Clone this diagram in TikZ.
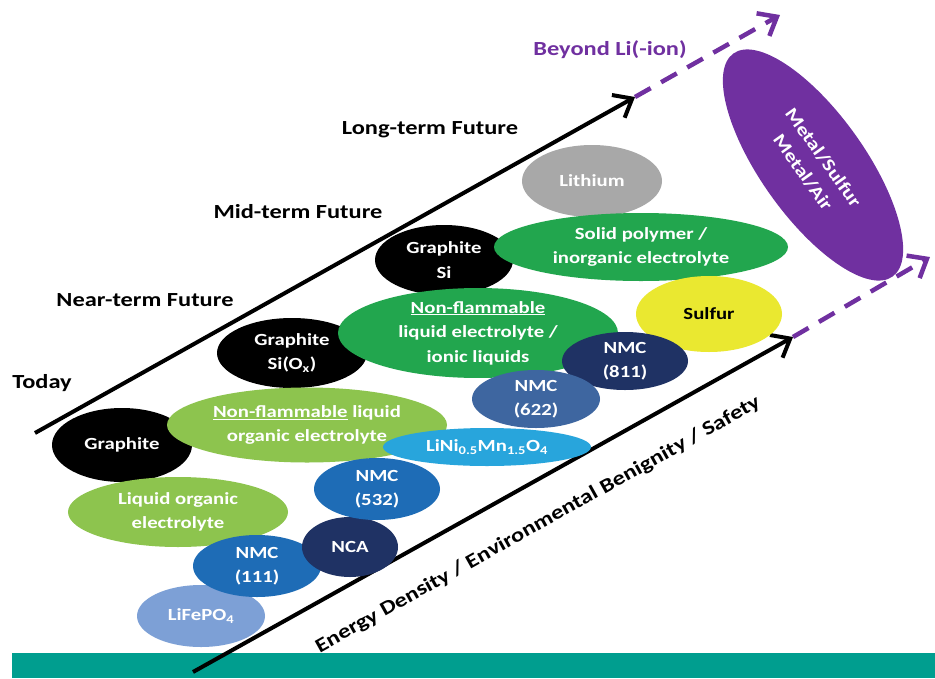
\documentclass[tikz,border=0pt]{standalone}
\usepackage{fontspec}
\setmainfont{Carlito}[FakeStretch=1.22]
\usetikzlibrary{shapes.geometric,arrows.meta}
\definecolor{teal}{RGB}{0,158,143}
\definecolor{lgreen}{RGB}{141,196,78}
\definecolor{dgreen}{RGB}{34,166,78}
\definecolor{nblue}{RGB}{30,108,182}
\definecolor{navy}{RGB}{31,50,100}
\definecolor{sblue}{RGB}{62,102,160}
\definecolor{cyanb}{RGB}{40,165,220}
\definecolor{pblue}{RGB}{125,160,214}
\definecolor{lgray}{RGB}{168,168,168}
\definecolor{yel}{RGB}{234,232,48}
\definecolor{purp}{RGB}{112,48,160}
\tikzset{
  blob/.style={ellipse, inner sep=0pt, text=white, font=\fontsize{17}{24.5}\selectfont\bfseries, align=center},
  lbl/.style={font=\fontsize{20}{24}\selectfont\bfseries, inner sep=0pt},
  axisarrow/.style={line width=4pt, -{Straight Barb[length=16pt,width=26pt]}},
  dasharrow/.style={line width=4.5pt, purp, dash pattern=on 18pt off 12pt, -{Straight Barb[length=16pt,width=26pt]}},
}
\begin{document}
\begin{tikzpicture}[x=1pt,y=-1pt]
\useasboundingbox (0,0) rectangle (935,678);
\fill[white] (0,0) rectangle (935,678);
\fill[teal] (12,653) rectangle (935,678);
% axis coordinates
\coordinate (a1) at (35,433);
\coordinate (b1) at (635,97);
\coordinate (c1) at (780,15);
\coordinate (a2) at (193,672);
\coordinate (b2) at (793,337);
\coordinate (c2) at (930,257);
\draw[axisarrow] (a1) -- (b1);
\draw[dasharrow] (b1) -- (c1);
\draw[axisarrow] (a2) -- (b2);
\draw[dasharrow] (b2) -- (c2);
% labels
\node[lbl] (today) at (42,383) {Today};
\node[lbl] (near) at (145,300) {Near-term Future};
\node[lbl] (mid) at (298,212) {Mid-term Future};
\node[lbl] (long) at (430,130) {Long-term Future};
\node[lbl, text=purp] (beyond) at (610,50) {Beyond Li(-ion)};
\node[lbl, rotate=29.2] (axislbl) at (538,525) {Energy Density / Environmental Benignity / Safety};
% ellipses
\node[blob, fill=lgray, minimum width=140pt, minimum height=72pt] (lith) at (592,181) {Lithium};
\node[blob, fill=black, minimum width=138pt, minimum height=70pt] (gsi) at (444,260) {Graphite\\Si};
\node[blob, fill=dgreen, minimum width=294pt, minimum height=68pt] (solid) at (641,247) {Solid polymer /\\inorganic electrolyte};
\node[blob, fill=yel, text=black, minimum width=146pt, minimum height=76pt] (sulf) at (709,314) {Sulfur};
\node[blob, fill=black, minimum width=150pt, minimum height=70pt] (gsiox) at (292,353) {Graphite\\Si(O\textsubscript{x})};
\node[blob, fill=dgreen, minimum width=280pt, minimum height=84pt] (ionic) at (478,333) {\underline{Non-flammable}\\liquid electrolyte /\\ionic liquids};
\node[blob, fill=navy, minimum width=126pt, minimum height=58pt] (n811) at (625,361) {NMC\\(811)};
\node[blob, fill=sblue, minimum width=128pt, minimum height=58pt] (n622) at (536,399) {NMC\\(622)};
\node[blob, fill=black, minimum width=140pt, minimum height=74pt] (graph) at (122,445) {Graphite};
\node[blob, fill=lgreen, minimum width=220pt, minimum height=70pt] (liq) at (178,512) {Liquid organic\\electrolyte};
\node[blob, fill=lgreen, minimum width=280pt, minimum height=75pt] (nfl) at (307,425) {\underline{Non-flammable} liquid\\organic electrolyte};
\node[blob, fill=pblue, minimum width=128pt, minimum height=62pt] (lfp) at (201,616) {LiFePO\textsubscript{4}};
\node[blob, fill=nblue, minimum width=128pt, minimum height=62pt] (n111) at (257,566) {NMC\\(111)};
\node[blob, fill=navy, minimum width=96pt, minimum height=60pt] (nca) at (350,547) {NCA};
\node[blob, fill=nblue, minimum width=126pt, minimum height=62pt] (n532) at (377,489) {NMC\\(532)};
\node[blob, fill=cyanb, minimum width=208pt, minimum height=38pt] (lnmo) at (487,447) {LiNi\textsubscript{0.5}Mn\textsubscript{1.5}O\textsubscript{4}};
\node[blob, fill=purp, minimum width=274pt, minimum height=104pt, rotate=-54.5, font=\fontsize{18}{25}\selectfont\bfseries] (metal) at (813,165) {Metal/Sulfur\\Metal/Air};
\end{tikzpicture}
\end{document}
